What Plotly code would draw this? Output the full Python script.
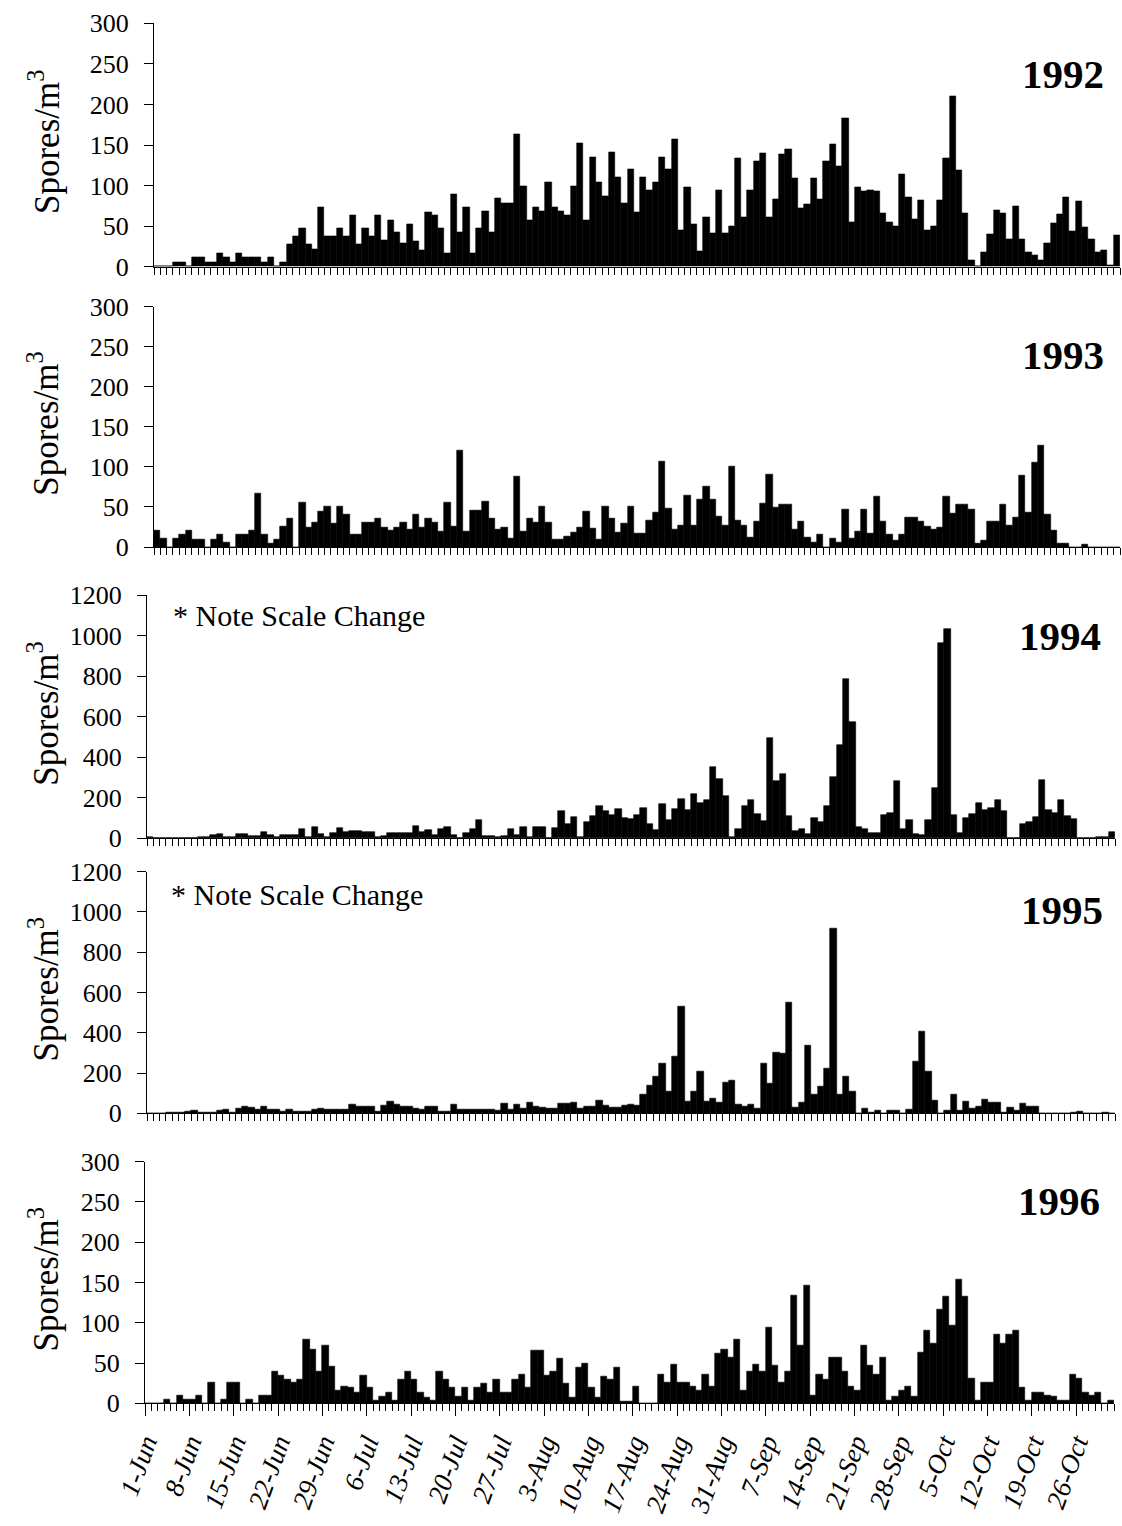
import plotly.graph_objects as go

W, H = 1122, 1526

days = list(range(153))
tick_labels = ["1-Jun", "8-Jun", "15-Jun", "22-Jun", "29-Jun", "6-Jul", "13-Jul", "20-Jul",
               "27-Jul", "3-Aug", "10-Aug", "17-Aug", "24-Aug", "31-Aug", "7-Sep", "14-Sep",
               "21-Sep", "28-Sep", "5-Oct", "12-Oct", "19-Oct", "26-Oct"]

y1992 = [0, 0, 0, 5, 5, 1, 11, 11, 6, 6,
         17, 11, 5, 16, 11, 11, 11, 5, 11, 1,
         5, 27, 37, 47, 27, 21, 73, 37, 37, 47,
         37, 63, 27, 47, 37, 63, 32, 57, 42, 29,
         52, 31, 20, 67, 63, 47, 16, 89, 42, 73,
         16, 47, 68, 42, 84, 78, 78, 163, 99, 57,
         73, 68, 104, 73, 68, 63, 99, 152, 57, 135,
         104, 87, 141, 110, 78, 120, 67,
         110, 94, 104, 135, 120, 157, 45, 98, 52, 19,
         61, 41, 94, 41, 50, 134, 61, 94, 130, 140,
         61, 83, 139, 145, 109, 72, 77, 109, 83, 130,
         151, 124, 183, 55, 98, 93, 94, 93, 66, 55,
         50, 114, 86, 58, 82, 45, 50, 82, 134, 210,
         119, 66, 8, 0, 18, 40, 70, 66, 34, 75,
         34, 18, 14, 8, 29, 54, 65, 86, 44, 81,
         49, 34, 18, 20, 2, 39]

y1993 = [21, 10, 0, 10, 16, 21, 9, 9, 0, 9,
         16, 5, 0, 16, 16, 20, 67, 15, 4, 9,
         25, 35, 0, 56, 24, 30, 44, 51, 29, 51,
         40, 15, 15, 31, 31, 35, 24, 20, 24, 31,
         22, 40, 24, 35, 31, 19, 56, 25, 120, 19,
         46, 46, 57, 35, 22, 24, 10, 88, 19, 35,
         30, 51, 30, 9, 9, 13, 18, 24, 44, 23,
         9, 51, 35, 18, 29, 51,
         17, 17, 33, 43, 107, 48, 22, 27, 64, 27,
         59, 75, 59, 38, 27, 101, 33, 27, 12, 32,
         54, 90, 49, 53, 53, 22, 32, 12, 5, 16,
         0, 10, 5, 47, 10, 19, 47, 17, 63, 32,
         16, 8, 16, 37, 37, 32, 26, 22, 24, 63,
         42, 53, 53, 47, 4, 8, 32, 32, 53, 27,
         37, 89, 43, 106, 127, 41, 20, 4, 4, 0,
         0, 3, 0, 0, 0, 0, 0]

y1994 = [7, 2, 0, 0, 0, 0, 1, 1, 5, 5,
         16, 20, 8, 8, 23, 23, 12, 12, 33, 16,
         5, 15, 15, 15, 44, 8, 57, 21, 5, 25,
         53, 30, 38, 38, 33, 33, 8, 12, 28, 25,
         25, 28, 62, 30, 41, 16, 48, 57, 16, 0,
         25, 44, 90, 12, 12, 8, 12, 48, 16, 54,
         8, 54, 54, 0,
         49, 133, 69, 104, 8, 79, 112, 158, 133, 117, 145, 102,
         94, 115, 148, 69, 39, 168, 89, 143, 196, 138,
         220, 176, 189, 352, 291, 209, 7, 44, 158, 189,
         122, 85, 496, 283, 317, 110, 36, 44, 21, 99,
         80, 159, 302, 458, 787, 574, 58, 44, 26, 26,
         115, 127, 283, 48, 89, 20, 15, 89, 250, 965,
         1030, 113, 28, 102, 118, 176, 140, 151, 189, 133,
         3, 3, 72, 80, 107, 288, 138, 127, 187, 110,
         97, 0, 3, 3, 5, 5, 33]

y1995 = [0, 0, 0, 5, 5, 5, 8, 13, 3, 5,
         3, 13, 20, 3, 25, 33, 28, 17, 33, 20,
         20, 10, 20, 10, 8, 8, 17, 23, 20, 20,
         20, 20, 45, 33, 33, 33, 8, 40, 58, 42,
         33, 33, 25, 17, 33, 33, 8, 8, 42, 17,
         20, 20, 20, 17, 17, 12, 47, 17, 42, 25,
         55, 33, 28, 23, 23, 47, 47, 53, 25, 33,
         33, 63, 37, 30, 28, 40,
         46, 38, 91, 137, 184, 247, 110, 283, 530, 58,
         110, 206, 58, 74, 54, 153, 163, 46, 33, 44,
         25, 245, 148, 303, 295, 551, 30, 53, 337, 91,
         132, 222, 918, 95, 181, 110, 0, 25, 3, 13,
         0, 13, 12, 0, 21, 255, 407, 206, 63, 0,
         13, 91, 13, 61, 25, 33, 69, 53, 53, 3,
         28, 16, 49, 36, 33, 0, 0, 0, 0, 0,
         2, 10, 0, 0, 0, 2, 0]

y1996 = [0, 0, 0, 5, 0, 10, 5, 5, 10, 0,
         26, 0, 5, 26, 26, 0, 5, 0, 10, 10,
         40, 35, 30, 26, 30, 79, 67, 40, 72, 46,
         16, 21, 20, 14, 35, 20, 4, 8, 14, 4,
         30, 40, 30, 14, 7, 3, 40, 30, 20, 8,
         19, 3, 19, 24, 14, 29, 14, 14, 29, 36,
         19, 65, 65, 34, 39, 55, 25, 7, 45, 50,
         19, 7, 33, 29, 45, 2, 2,
         21, 0, 0, 0, 36, 26, 48, 26, 26, 21,
         16, 36, 21, 62, 67, 57, 79, 16, 40, 48,
         40, 94, 47, 26, 40, 134, 72, 146, 10, 36,
         30, 57, 57, 40, 21, 16, 72, 47, 36, 57,
         4, 9, 16, 21, 8, 63, 90, 74, 117, 133,
         96, 153, 133, 31, 4, 26, 26, 85, 74, 85,
         90, 20, 3, 14, 14, 10, 9, 3, 3, 36,
         31, 14, 10, 13, 0, 3]

years = ["1992", "1993", "1994", "1995", "1996"]
series = [y1992, y1993, y1994, y1995, y1996]
ymax = [300, 300, 1200, 1200, 300]
ystep = [50, 50, 200, 200, 50]

# layout geometry (pixels)
zero_px = [266.7, 547.0, 838.3, 1113.3, 1403.3]
top_px = [23.3, 306.5, 595.0, 871.5, 1161.5]
left_px = [154, 154, 147, 147, 145]
right_px = [1120, 1120, 1115, 1115, 1114]
year_pos = [(1106, 74), (1106, 355), (1103, 636), (1105, 910), (1102, 1201)]
notes = {2: (171, 615), 3: (169, 894)}

SERIF = "Liberation Serif, Times New Roman, serif"

fig = go.Figure()
annotations = []
for k in range(5):
    ax = "" if k == 0 else str(k + 1)
    fig.add_trace(go.Bar(x=days, y=series[k], xaxis="x" + ax, yaxis="y" + ax,
                         marker=dict(color="black", line=dict(color="black", width=0.6)),
                         showlegend=False))
    xdom = [left_px[k] / W, right_px[k] / W]
    ydom = [1 - zero_px[k] / H, 1 - top_px[k] / H]
    xa = dict(domain=xdom, range=[-0.5, 152.5], anchor="y" + ax, automargin=False,
              showgrid=False, zeroline=False, showline=True, linecolor="black", linewidth=1.2,
              ticks="outside", tickcolor="black", tickwidth=1)
    if k < 4:
        xa.update(tickmode="linear", tick0=-0.5, dtick=1, ticklen=7, showticklabels=False)
    else:
        xa.update(tickmode="array", tickvals=[-0.5 + 7 * i for i in range(len(tick_labels))],
                  ticktext=tick_labels, ticklen=12, tickangle=-70,
                  tickfont=dict(family=SERIF, size=27, color="black", style="italic"),
                  minor=dict(tickmode="linear", tick0=-0.5, dtick=1, ticklen=7,
                             ticks="outside", tickcolor="black", tickwidth=1))
    ya = dict(domain=ydom, range=[0, ymax[k]], anchor="x" + ax, automargin=False,
              tickmode="linear", tick0=0, dtick=ystep[k],
              showgrid=False, zeroline=False, showline=True, linecolor="black", linewidth=1.2,
              ticks="outside", ticklen=9, tickcolor="black", tickwidth=1,
              ticklabelstandoff=10,
              tickfont=dict(family=SERIF, size=26, color="black"))
    fig.layout["xaxis" + ax] = xa
    fig.layout["yaxis" + ax] = ya

    yc = (zero_px[k] + top_px[k]) / 2 - 3
    annotations.append(dict(x=44 / W, y=1 - yc / H, xref="paper", yref="paper",
                            text="Spores/m<sup>3</sup>", textangle=-90, showarrow=False,
                            xanchor="center", yanchor="middle",
                            font=dict(family=SERIF, size=35, color="black")))
    xr, yr = year_pos[k]
    annotations.append(dict(x=xr / W, y=1 - yr / H, xref="paper", yref="paper",
                            text="<b>" + years[k] + "</b>", showarrow=False,
                            xanchor="right", yanchor="middle",
                            font=dict(family=SERIF, size=41, color="black")))
    if k in notes:
        nx, ny = notes[k]
        annotations.append(dict(x=nx / W, y=1 - ny / H, xref="paper", yref="paper",
                                text="* Note Scale Change", showarrow=False,
                                xanchor="left", yanchor="middle",
                                font=dict(family=SERIF, size=30, color="black")))

fig.update_layout(width=W, height=H, margin=dict(l=0, r=0, t=0, b=0, autoexpand=False),
                  paper_bgcolor="white", plot_bgcolor="white",
                  bargap=0, annotations=annotations, showlegend=False)

fig.write_html("out.html", config={"displayModeBar": False})
